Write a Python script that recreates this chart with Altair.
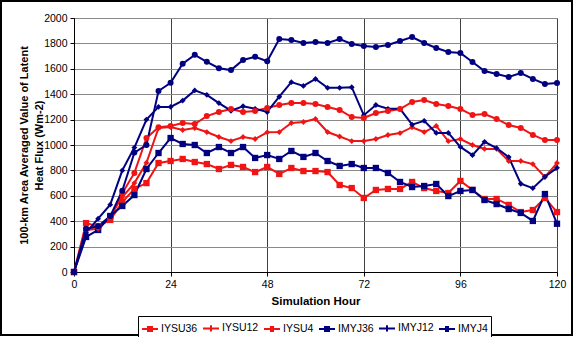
import altair as alt
import pandas as pd

hours = list(range(0, 121, 3))
series = ["IYSU36", "IYSU12", "IYSU4", "IMYJ36", "IMYJ12", "IMYJ4"]
markers = ["square", "diamond", "circle", "square", "diamond", "circle"]

iysu36 = [0, 385, 360, 410, 550, 655, 700, 858, 874, 890, 866, 850, 811, 843, 827, 787, 827,
          772, 819, 795, 795, 787, 685, 661, 583, 646, 654, 654, 709, 661, 638, 622, 717, 646,
          575, 575, 528, 472, 488, 583, 472]
iysu12 = [0, 330, 340, 440, 590, 700, 860, 1134, 1142, 1118, 1134, 1102, 1063, 1031, 1063, 1047,
          1100, 1102, 1173, 1181, 1205, 1102, 1067, 1031, 1031, 1047, 1079, 1094, 1140, 1102,
          1150, 1030, 1047, 1000, 969, 969, 874, 874, 850, 748, 858]
iysu4 = [0, 340, 360, 420, 620, 780, 1055, 1140, 1150, 1173, 1165, 1228, 1260, 1283, 1260, 1268,
         1291, 1315, 1331, 1331, 1323, 1299, 1276, 1220, 1213, 1252, 1268, 1283, 1339, 1354,
         1323, 1307, 1283, 1236, 1244, 1205, 1157, 1134, 1079, 1039, 1039]
imyj36 = [0, 276, 331, 441, 520, 606, 811, 937, 1055, 1008, 1000, 937, 984, 937, 984, 898, 921,
          890, 953, 906, 937, 874, 835, 850, 819, 819, 780, 709, 669, 677, 693, 598, 638, 646,
          567, 535, 496, 465, 402, 614, 380]
imyj12 = [0, 310, 420, 530, 800, 980, 1200, 1300, 1300, 1350, 1430, 1395, 1330, 1270, 1305, 1285,
          1260, 1380, 1495, 1465, 1520, 1450, 1450, 1455, 1235, 1315, 1285, 1285, 1160, 1190,
          1095, 1095, 985, 920, 1025, 975, 905, 695, 660, 750, 820]
imyj4 = [0, 340, 360, 440, 640, 940, 1000, 1425, 1490, 1640, 1710, 1655, 1605, 1590, 1670, 1695,
         1660, 1835, 1827, 1803, 1811, 1803, 1835, 1795, 1780, 1772, 1787, 1819, 1850, 1803,
         1764, 1732, 1724, 1654, 1583, 1559, 1535, 1567, 1520, 1480, 1488]

values = {"IYSU36": iysu36, "IYSU12": iysu12, "IYSU4": iysu4,
          "IMYJ36": imyj36, "IMYJ12": imyj12, "IMYJ4": imyj4}

rows = []
for s, m in zip(series, markers):
    for h, v in zip(hours, values[s]):
        rows.append({"hour": h, "value": v, "series": s, "marker": m})
df = pd.DataFrame(rows)

RED = "#F01414"
BLUE = "#000080"
palette = [RED, RED, RED, BLUE, BLUE, BLUE]
FONT = "Liberation Sans"

# legend symbols: line + marker drawn with strokes
p_square = "M-1,0H1M-0.375,-0.25H0.375M-0.375,0.25H0.375"
p_plus = "M-1,0H1M0,-0.4V0.4"
p_circle = "M-1,0H1M-0.25,-0.25H0.25M-0.25,0.25H0.25"
leg_paths = [p_square, p_plus, p_circle, p_square, p_plus, p_circle]

x_enc = alt.X("hour:Q", scale=alt.Scale(domain=[0, 120], nice=False, zero=False),
              axis=alt.Axis(values=[0, 24, 48, 72, 96, 120], title="Simulation Hour",
                            grid=True, gridColor="#404040", gridWidth=1,
                            domainColor="black", tickColor="black", tickSize=4,
                            labelFont=FONT, labelFontSize=10.5, labelColor="black",
                            labelPadding=3, labelFlush=False,
                            titleFont=FONT, titleFontSize=11.5, titleFontWeight="bold",
                            titleColor="black", titlePadding=6))
y_enc = alt.Y("value:Q", scale=alt.Scale(domain=[0, 2000], nice=False),
              axis=alt.Axis(values=list(range(0, 2001, 200)), format="d",
                            title=["100-km Area Averaged Value of Latent", "Heat Flux (Wm-2)"],
                            grid=True, gridColor="#8a8a8a", gridWidth=1,
                            domainColor="black", tickColor="black", tickSize=4,
                            labelFont=FONT, labelFontSize=10.5, labelColor="black",
                            labelPadding=3,
                            titleFont=FONT, titleFontSize=11, titleFontWeight="bold",
                            titleColor="black", titleLineHeight=15,
                            titleX=-50, titleBaseline="middle"))
# colour scale takes its domain from the data (sorted: IMYJ12, IMYJ36, IMYJ4, IYSU12, IYSU36, IYSU4)
color_enc = alt.Color("series:N", scale=alt.Scale(range=[BLUE, BLUE, BLUE, RED, RED, RED]),
                      legend=None)

base = alt.Chart(df)
lines = base.mark_line(strokeWidth=2).encode(x=x_enc, y=y_enc, color=color_enc)

sizes = {"square": 40, "diamond": 34, "circle": 36}
point_layers = [
    base.transform_filter(alt.datum.marker == m)
    .mark_point(shape=m, filled=True, size=sizes[m], opacity=1)
    .encode(x=x_enc, y=y_enc, color=color_enc)
    for m in ["square", "diamond", "circle"]
]

legend_props = dict(orient="none", legendX=64, legendY=298, direction="horizontal",
                    columns=6, title=None, symbolSize=256, symbolStrokeWidth=2,
                    symbolOpacity=1, labelFont=FONT, labelFontSize=10.5,
                    labelColor="black", strokeColor="black", fillColor="white",
                    padding=3, columnPadding=1, labelOffset=2)

legend_layer = base.transform_filter("false").mark_point(filled=False).encode(
    x=x_enc, y=y_enc,
    stroke=alt.Stroke("series:N", scale=alt.Scale(domain=series, range=palette),
                      legend=alt.Legend(**legend_props)),
    shape=alt.Shape("series:N", scale=alt.Scale(domain=series, range=leg_paths),
                    legend=alt.Legend(**legend_props)),
)

frame = alt.Chart(pd.DataFrame({"f": [0]})).mark_rect(
    filled=False, color="black", strokeWidth=2
).encode(x=alt.value(-73), x2=alt.value(498), y=alt.value(-17), y2=alt.value(317))

chart = alt.layer(lines, *point_layers, legend_layer, frame).properties(
    width=483, height=254,
    autosize=alt.AutoSizeParams(type="none"),
    padding={"left": 74, "top": 18, "right": 24, "bottom": 65},
    background="white",
).configure_view(stroke="#808080", strokeWidth=1)

chart.save("out.html", embed_options={"renderer": "svg", "actions": False})
